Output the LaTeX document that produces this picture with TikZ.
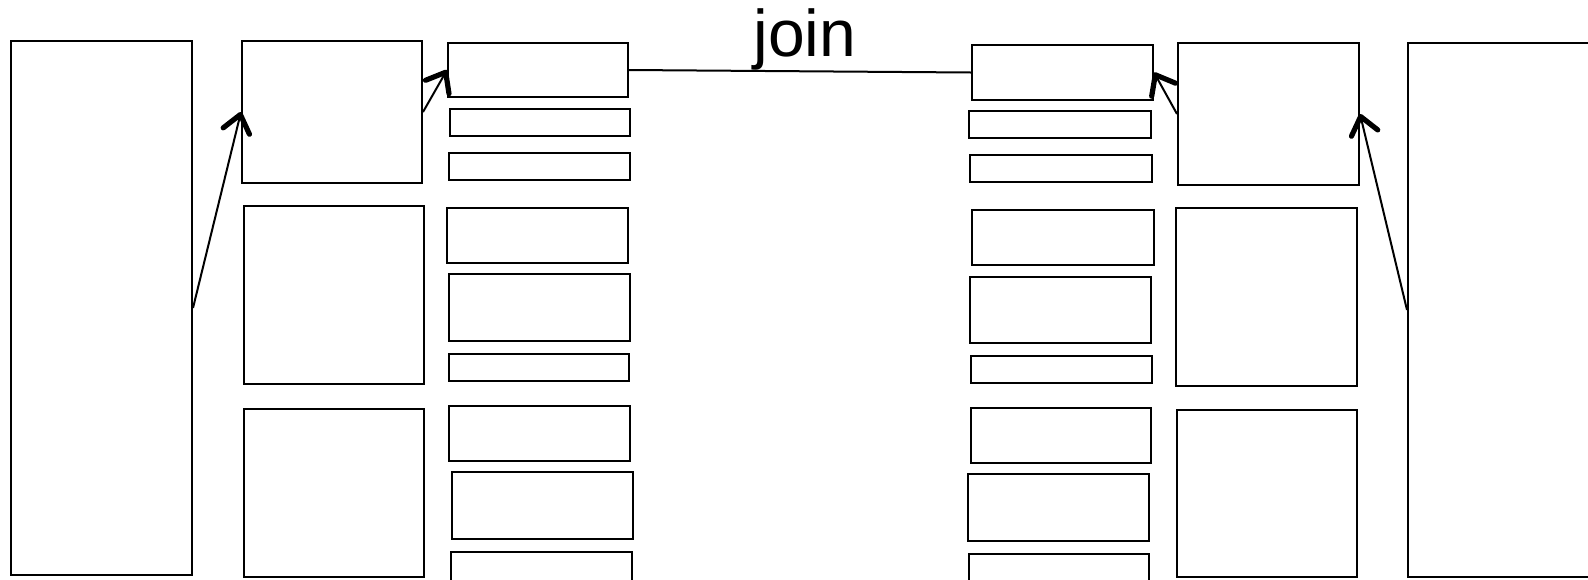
\documentclass[tikz,border=0pt]{standalone}
\usepackage{fontspec}
\setmainfont{Liberation Sans}
\usetikzlibrary{fit,arrows.meta}
\tikzset{
  bx/.style={draw=black, line width=1pt, inner sep=0pt, fill=none},
  conn/.style={draw=black, line width=1pt},
  arr/.style={conn, -{Straight Barb[length=8.5pt,width=13.5pt,line width=2.6pt,round]}},
  lbl/.style={font=\fontsize{33pt}{38pt}\selectfont, inner sep=0pt}
}
\begin{document}
\begin{tikzpicture}[x=0.5pt,y=-0.5pt]
\useasboundingbox (0,0) rectangle (1588,579);
% left outer
\node[bx, fit={(11,41) (192,575)}] (L0) {};
% left column 2
\node[bx, fit={(242,41) (422,183)}] (A1) {};
\node[bx, fit={(244,206) (424,384)}] (A2) {};
\node[bx, fit={(244,409) (424,577)}] (A3) {};
% left column 3
\node[bx, fit={(448,43) (628,97)}] (B1) {};
\node[bx, fit={(450,109) (630,136)}] (B2) {};
\node[bx, fit={(449,153) (630,180)}] (B3) {};
\node[bx, fit={(447,208) (628,263)}] (B4) {};
\node[bx, fit={(449,274) (630,341)}] (B5) {};
\node[bx, fit={(449,354) (629,381)}] (B6) {};
\node[bx, fit={(449,406) (630,461)}] (B7) {};
\node[bx, fit={(452,472) (633,539)}] (B8) {};
\node[bx, fit={(451,552) (632,584)}] (B9) {};
% right column 3
\node[bx, fit={(972,45) (1153,100)}] (C1) {};
\node[bx, fit={(969,111) (1151,138)}] (C2) {};
\node[bx, fit={(970,155) (1152,182)}] (C3) {};
\node[bx, fit={(972,210) (1154,265)}] (C4) {};
\node[bx, fit={(970,277) (1151,343)}] (C5) {};
\node[bx, fit={(971,356) (1152,383)}] (C6) {};
\node[bx, fit={(971,408) (1151,463)}] (C7) {};
\node[bx, fit={(968,474) (1149,541)}] (C8) {};
\node[bx, fit={(969,554) (1149,586)}] (C9) {};
% right column 2
\node[bx, fit={(1178,43) (1359,185)}] (D1) {};
\node[bx, fit={(1176,208) (1357,386)}] (D2) {};
\node[bx, fit={(1177,410) (1357,577)}] (D3) {};
% right outer
\node[bx, fit={(1408,43) (1592,577)}] (R0) {};
% connectors
\draw[arr] (L0.east) -- (A1.west);
\draw[arr] (A1.east) -- (B1.west);
\draw[conn] (B1.east) -- node[lbl, midway, above, xshift=2.5pt] {join} (C1.west);
\draw[arr] (D1.west) -- (C1.east);
\draw[arr] (R0.west) -- (D1.east);
\end{tikzpicture}
\end{document}
